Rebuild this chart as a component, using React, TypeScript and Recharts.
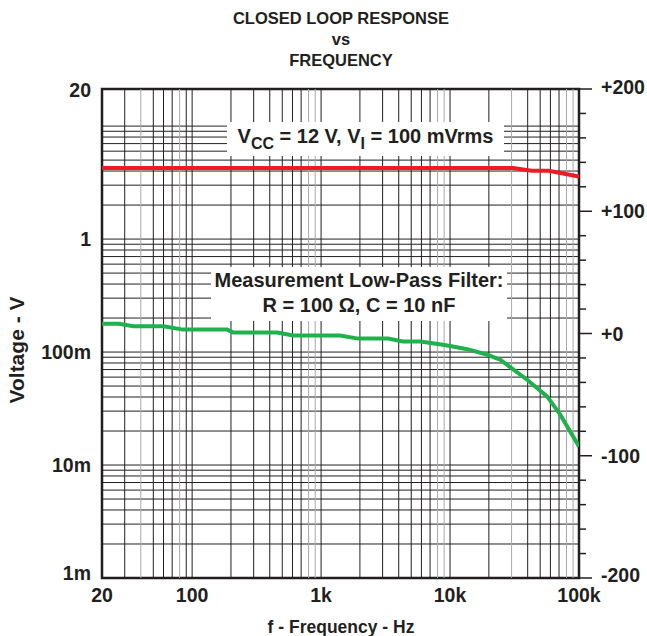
import React from "react";
import {
  ComposedChart,
  Line,
  XAxis,
  YAxis,
  ReferenceLine,
  ReferenceArea,
} from "recharts";

// ---- data ----
const greenFreq = [20, 27, 35, 60, 85, 187, 208, 457, 608, 1400, 1940, 3300, 4300, 5900, 8800, 10500, 13600, 19500, 24500, 39600, 56600, 71500, 100000];
const greenVolts = [0.178, 0.178, 0.169, 0.169, 0.158, 0.158, 0.149, 0.149, 0.14, 0.14, 0.1315, 0.1315, 0.124, 0.124, 0.116, 0.112, 0.106, 0.0946, 0.0855, 0.0569, 0.0405, 0.0279, 0.0146];

const redFreq = [20, 30800, 43000, 58000, 100000];
const redVolts = [4.25, 4.25, 4.02, 4.02, 3.58];

const xTicks = [20, 100, 1000, 10000, 100000];
const xTickLabels = ["20", "100", "1k", "10k", "100k"];
const yTicks = [0.001, 0.01, 0.1, 1, 20];
const yTickLabels = ["1m", "10m", "100m", "1", "20"];
const rightTicks = [-200, -180, -160, -140, -120, -100, -80, -60, -40, -20, 0, 20, 40, 60, 80, 100, 120, 140, 160, 180, 200];
const rightMajor: Record<number, string> = { "-200": "-200", "-100": "-100", 0: "+0", 100: "+100", 200: "+200" };

// log grid
const mantissas = [1, 2, 3, 4, 5, 6, 7, 8, 9];
const hDecades = [0.001, 0.01, 0.1, 1];
const hGrid = [...hDecades.flatMap((d) => mantissas.map((m) => m * d)), 10];
const vGrid = [20, 30, 40, 50, 60, 70, 80, 90, 100, 200, 300, 400, 500, 600, 700, 800, 900, 1000, 2000, 3000, 4000, 5000, 6000, 7000, 8000, 9000, 10000, 20000, 30000, 40000, 50000, 60000, 70000, 80000, 90000];
const vGridLight = [40, 80, 800, 900, 8000, 9000, 30000, 80000, 90000];

const greenData = greenFreq.map((f, i) => ({ f, v: greenVolts[i] }));
const redData = redFreq.map((f, i) => ({ f, v: redVolts[i] }));

const FONT = '"Liberation Sans", Arial, Helvetica, sans-serif';
const INK = "#231f20";
const Y_TOP = 21.3; // frame top sits a little above the 20 label in the original

const XTick = ({ x, y, payload }: any) => {
  const i = xTicks.indexOf(payload.value);
  return (
    <text x={x} y={y + 17} textAnchor="middle" dominantBaseline="central" fontFamily={FONT} fontWeight="bold" fontSize={19.5} fill={INK}>
      {xTickLabels[i]}
    </text>
  );
};

const LeftTick = ({ x, y, payload }: any) => {
  const i = yTicks.indexOf(payload.value);
  const nudge = payload.value === 0.001 ? -5 : payload.value === 20 ? -2 : 0;
  return (
    <text x={x - 11} y={y + nudge} textAnchor="end" dominantBaseline="central" fontFamily={FONT} fontWeight="bold" fontSize={19.5} fill={INK}>
      {yTickLabels[i]}
    </text>
  );
};

const RightTick = ({ x, y, payload }: any) => {
  const label = rightMajor[payload.value];
  const nudge = payload.value === -200 ? -3 : payload.value === 200 ? -2 : 0;
  return (
    <g>
      <line x1={x} x2={x + (label ? 13 : 7)} y1={y} y2={y} stroke={INK} strokeWidth={1.5} />
      {label && (
        <text x={x + 22} y={y + nudge} textAnchor="start" dominantBaseline="central" fontFamily={FONT} fontWeight="bold" fontSize={19.5} fill={INK}>
          {label}
        </text>
      )}
    </g>
  );
};

const boxText: React.CSSProperties = {
  position: "absolute",
  background: "#fff",
  fontFamily: FONT,
  fontWeight: "bold",
  color: INK,
  textAlign: "center",
  whiteSpace: "nowrap",
  boxSizing: "border-box",
};

export default function App() {
  return (
    <div style={{ position: "absolute", left: 0, top: 0, width: 647, height: 636, background: "#fff", fontFamily: FONT }}>
      <ComposedChart
        width={647}
        height={636}
        margin={{ top: 89, right: 8, bottom: 18, left: 42 }}
      >
        <XAxis
          dataKey="f"
          type="number"
          scale="log"
          domain={[20, 100000]}
          ticks={xTicks}
          allowDataOverflow
          height={40}
          tickSize={0}
          tickMargin={0}
          axisLine={false}
          tick={<XTick />}
          interval={0}
        />
        <YAxis
          yAxisId="left"
          type="number"
          scale="log"
          domain={[0.001, Y_TOP]}
          ticks={yTicks}
          allowDataOverflow
          width={60}
          tickSize={0}
          tickMargin={0}
          axisLine={false}
          tick={<LeftTick />}
          interval={0}
        />
        <YAxis
          yAxisId="right"
          orientation="right"
          type="number"
          domain={[-200, 200]}
          ticks={rightTicks}
          allowDataOverflow
          width={60}
          tickSize={0}
          tickMargin={0}
          axisLine={false}
          tick={<RightTick />}
          interval={0}
        />
        {hGrid.map((v) => (
          <ReferenceLine key={"h" + v} yAxisId="left" y={v} stroke={INK} strokeWidth={1} />
        ))}
        {vGrid.map((v) => (
          <ReferenceLine
            key={"v" + v}
            yAxisId="left"
            x={v}
            stroke={vGridLight.includes(v) ? "#a7a9ac" : INK}
            strokeWidth={1}
          />
        ))}
        <Line
          yAxisId="left"
          data={redData}
          dataKey="v"
          stroke="#ed1c24"
          strokeWidth={4}
          dot={false}
          isAnimationActive={false}
        />
        <Line
          yAxisId="left"
          data={greenData}
          dataKey="v"
          stroke="#1fb14c"
          strokeWidth={4}
          dot={false}
          isAnimationActive={false}
        />
        <ReferenceArea
          yAxisId="left"
          x1={20}
          x2={100000}
          y1={0.001}
          y2={Y_TOP}
          fill="none"
          stroke={INK}
          strokeWidth={2.5}
        />
      </ComposedChart>

      {/* title */}
      <div style={{ position: "absolute", left: 141, width: 400, top: 8, textAlign: "center", fontWeight: "bold", fontSize: 16.5, lineHeight: "21px", color: INK }}>
        CLOSED LOOP RESPONSE
        <br />
        vs
        <br />
        FREQUENCY
      </div>

      {/* annotation boxes */}
      <div style={{ ...boxText, left: 227, top: 122, width: 277, height: 34, fontSize: 20, lineHeight: "28px" }}>
        V<span style={{ fontSize: 16, position: "relative", top: 6 }}>CC</span> = 12 V, V
        <span style={{ fontSize: 16, position: "relative", top: 6 }}>I</span> = 100 mVrms
      </div>
      <div style={{ ...boxText, left: 211, top: 267, width: 296, height: 54, fontSize: 20, lineHeight: "25px", paddingTop: 1 }}>
        Measurement Low-Pass Filter:
        <br />
        R = 100 Ω, C = 10 nF
      </div>

      {/* axis titles */}
      <div style={{ position: "absolute", left: 141, width: 400, top: 616, textAlign: "center", fontWeight: "bold", fontSize: 17.5, lineHeight: "22px", color: INK }}>
        f - Frequency - Hz
      </div>
      <div
        style={{
          position: "absolute",
          left: 17,
          top: 350,
          transform: "translate(-50%, -50%) rotate(-90deg)",
          whiteSpace: "nowrap",
          fontWeight: "bold",
          fontSize: 21,
          color: INK,
        }}
      >
        Voltage - V
      </div>
    </div>
  );
}
